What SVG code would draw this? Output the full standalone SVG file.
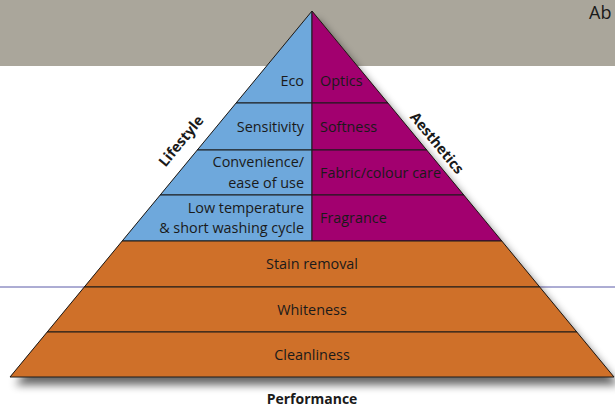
<svg xmlns="http://www.w3.org/2000/svg" width="615" height="408" viewBox="0 0 615 408">
<defs>
<filter id="shadow" x="-10%" y="-10%" width="125%" height="130%">
<feGaussianBlur in="SourceAlpha" stdDeviation="4"/>
<feOffset dx="5" dy="8" result="b"/>
<feComponentTransfer><feFuncA type="linear" slope="0.6"/></feComponentTransfer>
<feMerge><feMergeNode/><feMergeNode in="SourceGraphic"/></feMerge>
</filter>
</defs>
<style>
.t{font-family:"Open Sans","Noto Sans","Liberation Sans",sans-serif;font-size:14.4px;fill:#1a1a1a}
.b{font-weight:bold}
.blue{fill:#6ea8dc;stroke:#1a1a1a;stroke-width:1}
.mag{fill:#a2006f;stroke:#1a1a1a;stroke-width:1}
.org{fill:#cf7029;stroke:#1a1a1a;stroke-width:1}
.l{text-anchor:end}
.c{text-anchor:middle}
</style>
<rect x="0" y="0" width="615" height="66" fill="#aaa69b"/>
<text x="589" y="19" font-family="Open Sans, Noto Sans, sans-serif" font-size="18" fill="#1a1a1a">Ab</text>
<line x1="0" y1="287" x2="615" y2="287" stroke="#5a5aa8" stroke-width="1"/>
<g filter="url(#shadow)">
<polygon points="312,11 614,377 10,377" fill="#cf7029"/>
</g>
<g id="eco"><polygon class="blue" points="312,11 312,103 236.1,103"/><text class="t l" x="304" y="86">Eco</text></g>
<g id="optics"><polygon class="mag" points="312,11 387.9,103 312,103"/><text class="t" x="320" y="86">Optics</text></g>
<g id="sensitivity"><polygon class="blue" points="236.1,103 312,103 312,150 197.3,150"/><text class="t l" x="304" y="132">Sensitivity</text></g>
<g id="softness"><polygon class="mag" points="312,103 387.9,103 426.7,150 312,150"/><text class="t" x="320" y="132">Softness</text></g>
<g id="convenience"><polygon class="blue" points="197.3,150 312,150 312,195 160.2,195"/><text class="t l" x="304" y="167">Convenience/</text><text class="t l" x="304" y="188">ease of use</text></g>
<g id="fabric"><polygon class="mag" points="312,150 426.7,150 463.8,195 312,195"/><text class="t" x="320" y="178">Fabric/colour care</text></g>
<g id="lowtemp"><polygon class="blue" points="160.2,195 312,195 312,241 122.2,241"/><text class="t l" x="304" y="213">Low temperature</text><text class="t l" x="304" y="233">&amp; short washing cycle</text></g>
<g id="fragrance"><polygon class="mag" points="312,195 463.8,195 501.8,241 312,241"/><text class="t" x="320" y="223">Fragrance</text></g>
<g id="stain"><polygon class="org" points="122.2,241 501.8,241 539.7,287 84.3,287"/><text class="t c" x="312" y="269">Stain removal</text></g>
<g id="whiteness"><polygon class="org" points="84.3,287 539.7,287 576.8,332 47.2,332"/><text class="t c" x="312" y="315">Whiteness</text></g>
<g id="cleanliness"><polygon class="org" points="47.2,332 576.8,332 614,377 10,377"/><text class="t c" x="312" y="360">Cleanliness</text></g>
<g id="lifestyle"><text class="t b c" transform="translate(181,141) rotate(-50.5)" y="5">Lifestyle</text></g>
<g id="aesthetics"><text class="t b c" transform="translate(437,143) rotate(50.5)" y="5">Aesthetics</text></g>
<g id="performance"><text class="t b c" x="312" y="404" style="font-size:14px">Performance</text></g>
</svg>
